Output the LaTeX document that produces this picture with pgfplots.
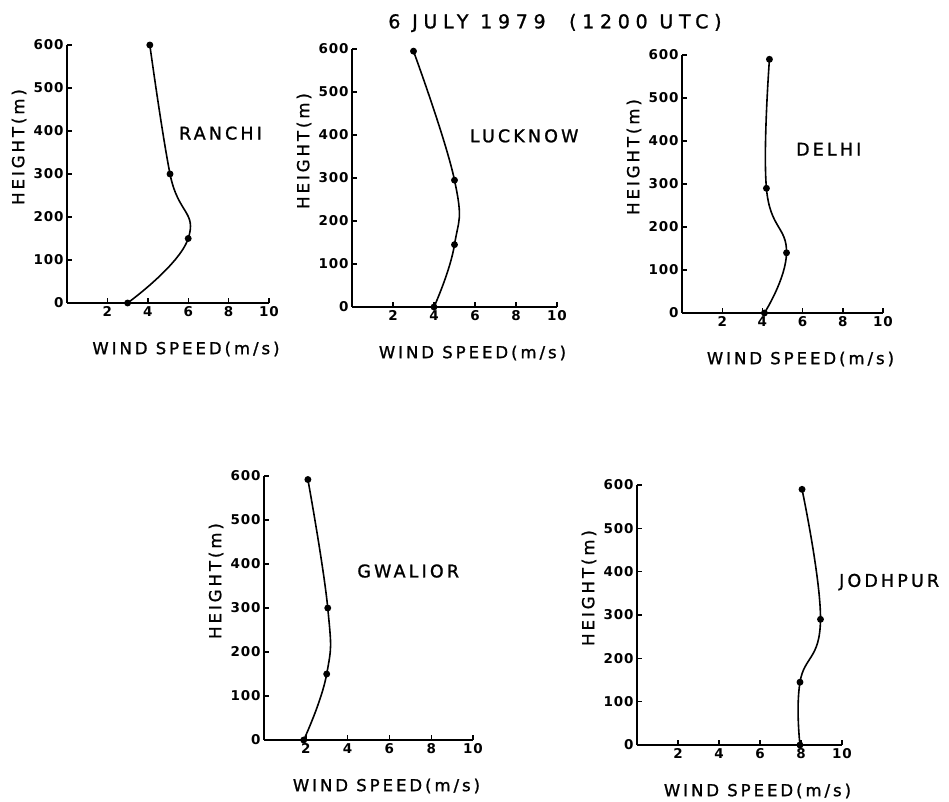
\documentclass[border=0pt]{standalone}
\usepackage{fontspec}
\setmainfont{DejaVu Sans}
\newfontfamily\labelfont[LetterSpace=18,FakeBold=1.2]{DejaVu Sans}
\newfontfamily\titlefont[LetterSpace=30,FakeBold=1.2]{DejaVu Sans}
\newfontfamily\tickfont[LetterSpace=6]{DejaVu Sans}
\usepackage{pgfplots}
\pgfplotsset{compat=1.18}

\pgfplotsset{
  wind/.style={
    scale only axis, anchor=south west,
    xmin=0, xmax=10, ymin=0, ymax=600,
    axis lines=left, axis line style={-, line width=2pt},
    xtick={2,4,6,8,10}, ytick={0,100,...,600},
    major tick length=5pt, tick style={line width=1.4pt, black},
    tick align=inside,
    /pgf/number format/assume math mode=true,
    tick label style={font=\fontsize{13.5}{13.5}\selectfont\tickfont\bfseries},
    xlabel={WIND SPEED(m/s)}, ylabel={HEIGHT(m)},
    every axis x label/.style={at={(axis description cs:0.5,0)}, anchor=center,
      xshift=18pt, yshift=-46pt, font=\fontsize{16.5}{16.5}\selectfont\labelfont},
    every axis y label/.style={at={(axis description cs:0,0.5)}, anchor=center,
      xshift=-48pt, yshift=27pt, rotate=90, font=\fontsize{16.5}{16.5}\selectfont\labelfont},
    clip=false,
  },
  prof/.style={black, line width=1.6pt, smooth, tension=0.75, mark=*, mark size=2.6pt},
}
\tikzset{stn/.style={font=\fontsize{17.5}{17.5}\selectfont\labelfont}}

\begin{document}
\begin{tikzpicture}[x=1pt,y=1pt]
\useasboundingbox (0,0) rectangle (949,801);
\node[font=\fontsize{19}{19}\selectfont\titlefont] at (555,778) {6 JULY 1979 \ (1200 UTC)};

% Ranchi
\begin{axis}[wind, at={(67pt,498pt)}, width=202pt, height=258pt]
\addplot[prof] coordinates {(3.0,0) (6.0,150) (5.1,300) (4.1,600)};
\node[stn] at (axis cs:7.6,395) {RANCHI};
\end{axis}

% Lucknow
\begin{axis}[wind, at={(352pt,494pt)}, width=205pt, height=258pt]
\addplot[prof] coordinates {(4.0,0) (5.0,145) (5.0,295) (3.0,595)};
\node[stn] at (axis cs:8.4,398) {LUCKNOW};
\end{axis}

% Delhi
\begin{axis}[wind, at={(682pt,488pt)}, width=201pt, height=258pt]
\addplot[prof] coordinates {(4.1,0) (5.2,140) (4.2,290) (4.35,590)};
\node[stn] at (axis cs:7.3,381) {DELHI};
\end{axis}

% Gwalior
\begin{axis}[wind, at={(264pt,61pt)}, width=209pt, height=264pt]
\addplot[prof] coordinates {(1.9,0) (3.0,150) (3.05,300) (2.1,592)};
\node[stn] at (axis cs:6.9,384) {GWALIOR};
\end{axis}

% Jodhpur
\begin{axis}[wind, at={(637pt,56pt)}, width=205pt, height=260pt]
\addplot[prof] coordinates {(7.95,0) (7.95,145) (8.95,290) (8.05,590)};
\node[stn] at (axis cs:12.3,376) {JODHPUR};
\end{axis}
\end{tikzpicture}
\end{document}
